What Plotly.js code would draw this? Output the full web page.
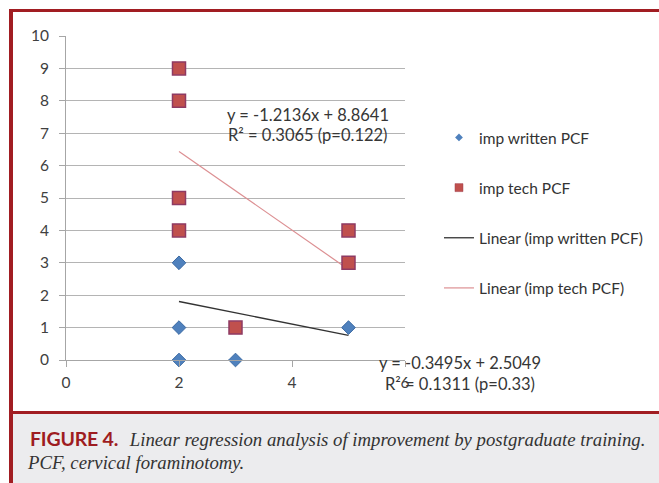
<!DOCTYPE html>
<html>
<head>
<meta charset="utf-8">
<script src="https://cdn.plot.ly/plotly-3.0.1.min.js"></script>
<style>
  html, body { margin: 0; padding: 0; background: #ffffff; }
  #wrap { position: relative; width: 659px; height: 483px; overflow: hidden; background: #ffffff; }
  #chart { position: absolute; left: 0; top: 0; width: 659px; height: 412px; }
  .bar { position: absolute; background: #a11d22; }
  #caption { position: absolute; left: 13px; top: 414px; width: 646px; height: 69px; background: #ececee; }
  #cap1 { position: absolute; left: 17px; top: 13px; white-space: nowrap; font-family: "Liberation Serif", serif; font-style: italic; font-size: 18.75px; color: #333333; }
  #cap1 b { font-family: Lato, "Open Sans", sans-serif; font-style: normal; font-weight: 700; color: #9e1c21; font-size: 19.5px; letter-spacing: -0.2px; margin-right: 7px; }
  #cap2 { position: absolute; left: 15px; top: 38px; white-space: nowrap; font-family: "Liberation Serif", serif; font-style: italic; font-size: 18.75px; color: #333333; }
</style>
</head>
<body>
<div id="wrap">
  <div id="chart"></div>
  <div class="bar" style="left:9px; top:9px; width:650px; height:3px;"></div>
  <div class="bar" style="left:9px; top:9px; width:4px; height:474px;"></div>
  <div class="bar" style="left:9px; top:411px; width:650px; height:3px;"></div>
  <div id="caption">
    <div id="cap1"><b>FIGURE 4.</b> Linear regression analysis of improvement by postgraduate training.</div>
    <div id="cap2">PCF, cervical foraminotomy.</div>
  </div>
</div>
<script>
// Data
var writtenX = [2, 2, 2, 3, 5];
var writtenY = [3, 1, 0, 0, 1];
var techX = [2, 2, 2, 2, 3, 5, 5];
var techY = [9, 8, 5, 4, 1, 4, 3];
// Trend line end points (from the printed regression equations)
var trendX = [2, 5];
var trendWrittenY = [1.806, 0.757];
var trendTechY = [6.437, 2.796];
var xTicks = [0, 2, 4, 6];
var yTicks = [0, 1, 2, 3, 4, 5, 6, 7, 8, 9, 10];
var seriesNames = ['imp written PCF', 'imp tech PCF', 'Linear (imp written PCF)', 'Linear (imp tech PCF)'];
var eqTechLines = ['y = -1.2136x + 8.8641', 'R² = 0.3065 (p=0.122)'];
var eqWrittenLines = ['y = -0.3495x + 2.5049', 'R² = 0.1311 (p=0.33)'];

var FONT = 'Lato, "Open Sans", sans-serif';
var blue = '#4f81bd', red = '#c0504d';

var traces = [
  // trend lines (drawn beneath markers)
  { x: trendX, y: trendWrittenY, mode: 'lines', type: 'scatter', line: { color: '#333333', width: 1.3 }, showlegend: false, hoverinfo: 'skip', cliponaxis: false },
  { x: trendX, y: trendTechY, mode: 'lines', type: 'scatter', line: { color: '#dc8f92', width: 1.2 }, showlegend: false, hoverinfo: 'skip', cliponaxis: false },
  // points
  { x: writtenX, y: writtenY, mode: 'markers', type: 'scatter', name: seriesNames[0], showlegend: false, cliponaxis: false,
    marker: { symbol: 'diamond', size: 10.5, color: blue, line: { color: '#3b6aa3', width: 1 } } },
  { x: techX, y: techY, mode: 'markers', type: 'scatter', name: seriesNames[1], showlegend: false, cliponaxis: false,
    marker: { symbol: 'square', size: 13, color: red, line: { color: '#8e3a63', width: 1.5 } } },
  // legend entries
  { x: [null], y: [null], mode: 'markers', type: 'scatter', name: seriesNames[0], legendgroup: 'a',
    marker: { symbol: 'diamond', size: 6, color: blue, line: { width: 0 } } },
  { x: [null], y: [null], mode: 'markers', type: 'scatter', name: seriesNames[1], legendgroup: 'b',
    marker: { symbol: 'square', size: 8, color: red, line: { color: '#a04050', width: 0.5 } } },
  { x: [null], y: [null], mode: 'lines', type: 'scatter', name: seriesNames[2], legendgroup: 'c',
    line: { color: '#333333', width: 1.3 } },
  { x: [null], y: [null], mode: 'lines', type: 'scatter', name: seriesNames[3], legendgroup: 'd',
    line: { color: '#dc8f92', width: 1.2 } }
];

function eqAnn(text, x, y) {
  return { text: text, xref: 'paper', yref: 'paper', x: x, y: y, xanchor: 'center', yanchor: 'middle',
    showarrow: false, font: { family: FONT, size: 16.5, color: '#363636' } };
}
// paper coords: plot area x 66..406 px, y 36..360 px
function px(xp) { return (xp - 66) / 340; }
function py(yp) { return (360 - yp) / 324; }

var layout = {
  width: 659, height: 412,
  margin: { l: 66, r: 253, t: 36, b: 52 },
  paper_bgcolor: 'rgba(0,0,0,0)', plot_bgcolor: 'rgba(0,0,0,0)',
  font: { family: FONT, size: 15.5, color: '#404040' },
  xaxis: {
    range: [0, 6], tickvals: xTicks, ticktext: xTicks.map(String),
    showgrid: false, zeroline: false, showline: true, linecolor: '#a6a6a6', linewidth: 1,
    ticks: 'outside', ticklen: 6, tickcolor: '#a6a6a6', tickfont: { family: FONT, size: 15.5, color: '#404040' },
    ticklabelstandoff: 2
  },
  yaxis: {
    range: [0, 10], tickvals: yTicks, ticktext: yTicks.map(String),
    showgrid: true, gridcolor: '#b4b4b4', gridwidth: 1, zeroline: false,
    showline: true, linecolor: '#a6a6a6', linewidth: 1,
    ticks: 'outside', ticklen: 6, tickcolor: '#a6a6a6', tickfont: { family: FONT, size: 15.5, color: '#404040' },
    ticklabelstandoff: 7
  },
  showlegend: true,
  legend: {
    x: 1.097, xanchor: 'left', y: 0.738, yanchor: 'top',
    font: { family: FONT, size: 15.5, color: '#333333' },
    tracegroupgap: 27, bgcolor: 'rgba(0,0,0,0)', itemwidth: 30
  },
  annotations: [
    eqAnn(eqTechLines[0], px(309), py(115)),
    eqAnn(eqTechLines[1], px(309), py(135)),
    eqAnn(eqWrittenLines[0], px(461), py(363)),
    eqAnn(eqWrittenLines[1], px(461), py(384))
  ]
};

Plotly.newPlot('chart', traces, layout, { staticPlot: true, displayModeBar: false });
</script>
</body>
</html>
